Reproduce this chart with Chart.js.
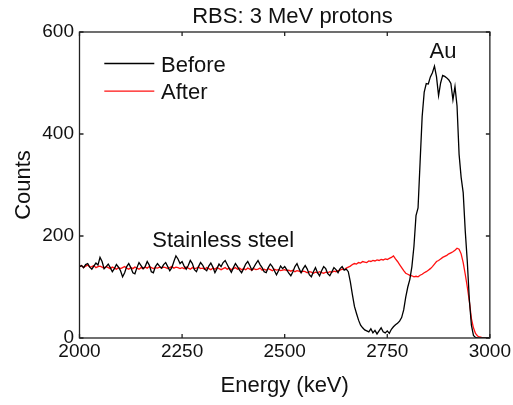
<!DOCTYPE html>
<html>
<head>
<meta charset="utf-8">
<script src="https://cdn.jsdelivr.net/npm/chart.js@4/dist/chart.umd.min.js"></script>
<style>
  html, body { margin: 0; padding: 0; background: #fff; }
</style>
</head>
<body>
<canvas id="rbs" width="513" height="405"></canvas>
<script>
/* RBS spectrum, 3 MeV protons – before / after */

const ENERGY_START = 2000;   // keV, first channel
const ENERGY_STEP = 5;       // keV per channel
const X_TICKS = [2000, 2250, 2500, 2750, 3000];
const Y_TICKS = [0, 200, 400, 600];

const BEFORE_COUNTS = [
  140,142,138,144,146,139,135,141,147,143,
  158,150,136,140,145,138,130,136,144,139,
  132,120,128,140,146,138,128,126,138,148,
  142,136,140,150,143,130,128,140,146,141,
  137,144,148,140,132,138,150,161,155,146,
  150,141,135,142,152,146,134,130,140,148,
  143,135,132,141,147,139,128,136,145,140,
  148,152,144,136,129,138,146,140,133,128,
  136,145,150,142,133,139,146,152,144,138,
  130,128,138,145,140,132,124,132,141,136,
  140,134,127,122,130,140,146,136,128,136,
  142,135,124,120,130,138,128,122,132,140,
  136,126,122,130,138,134,128,136,140,133,
  135,130,110,85,62,48,35,25,20,16,
  14,12,18,10,15,8,14,20,12,10,
  14,9,17,22,26,29,33,40,55,80,
  100,115,140,180,240,255,345,434,482,499,
  498,512,520,533,512,475,500,515,513,510,
  506,499,467,493,455,360,315,285,210,150,
  75,25,5,1,0,0,0,0,0,0,
  0
];

const AFTER_COUNTS = [
  140,142,138,141,143,139,140,142,138,140,
  141,139,137,140,138,136,139,137,135,138,
  136,138,140,137,135,138,136,139,137,135,
  138,136,139,137,140,138,136,138,137,139,
  137,139,138,136,138,140,137,139,138,136,
  138,136,139,137,135,138,136,137,139,136,
  137,135,138,136,134,137,135,138,136,134,
  136,138,135,137,134,136,138,135,137,134,
  136,134,137,135,133,136,134,135,137,133,
  135,133,136,134,132,135,133,134,132,133,
  134,132,133,131,133,130,132,131,129,131,
  130,128,130,129,127,129,128,130,128,127,
  129,128,130,129,131,130,132,133,135,134,
  137,139,141,144,146,145,148,147,150,149,
  148,151,150,152,151,153,152,154,153,155,
  154,156,158,161,155,150,144,138,132,127,
  125,123,122,120,121,120,123,125,128,130,
  133,136,140,145,150,152,155,158,160,162,
  165,167,169,172,176,174,165,148,125,100,
  72,38,20,9,4,2,1,0.5,0,0,
  0
];

const FONT = "'Liberation Sans', Arial, sans-serif";
const INK = '#111';

const toPoints = arr => arr.map((v, i) => ({ x: ENERGY_START + i * ENERGY_STEP, y: v }));

// frame, inward ticks, legend and labels drawn on top of the plot
const framePlugin = {
  id: 'frame',
  afterDraw(chart) {
    const { ctx, chartArea: a, scales: { x, y } } = chart;
    ctx.save();
    ctx.strokeStyle = '#222';
    ctx.lineWidth = 1.3;
    ctx.strokeRect(a.left, a.top, a.right - a.left, a.bottom - a.top);
    ctx.beginPath();
    X_TICKS.forEach(v => {
      const px = x.getPixelForValue(v);
      ctx.moveTo(px, a.bottom); ctx.lineTo(px, a.bottom - 4);
      ctx.moveTo(px, a.top); ctx.lineTo(px, a.top + 4);
    });
    Y_TICKS.forEach(v => {
      const py = y.getPixelForValue(v);
      ctx.moveTo(a.left, py); ctx.lineTo(a.left + 4, py);
      ctx.moveTo(a.right, py); ctx.lineTo(a.right - 4, py);
    });
    ctx.stroke();

    ctx.fillStyle = INK;
    ctx.font = '22px ' + FONT;
    ctx.textBaseline = 'alphabetic';

    // title
    ctx.textAlign = 'center';
    ctx.fillText('RBS: 3 MeV protons', 292.5, 23.3);
    ctx.fillText('Au', 443, 57.7);

    ctx.textAlign = 'left';
    ctx.fillText('Stainless steel', 152.3, 246.7);

    // legend
    chart.data.datasets.forEach((ds, i) => {
      const ly = 63.5 + i * 27.7;
      ctx.strokeStyle = ds.borderColor;
      ctx.lineWidth = 1.3;
      ctx.beginPath();
      ctx.moveTo(104.3, ly); ctx.lineTo(154.3, ly);
      ctx.stroke();
      ctx.fillStyle = INK;
      ctx.fillText(ds.label, 161, ly + 8.2);
    });
    ctx.restore();
  }
};

new Chart(document.getElementById('rbs'), {
  type: 'line',
  data: {
    datasets: [
      { label: 'Before', data: toPoints(BEFORE_COUNTS), borderColor: '#000', borderWidth: 1.3, pointRadius: 0, tension: 0 },
      { label: 'After', data: toPoints(AFTER_COUNTS), borderColor: '#ff1010', borderWidth: 1.3, pointRadius: 0, tension: 0 }
    ]
  },
  options: {
    responsive: false,
    animation: false,
    devicePixelRatio: 1,
    layout: { padding: { left: 0, right: 20, top: 32, bottom: 0 } },
    plugins: { legend: { display: false }, tooltip: { enabled: false } },
    scales: {
      x: {
        type: 'linear',
        min: 2000, max: 3000,
        afterFit: s => { s.height = 67; },
        afterBuildTicks: s => { s.ticks = X_TICKS.map(v => ({ value: v })); },
        grid: { display: false, drawTicks: false },
        border: { display: false },
        ticks: { color: INK, font: { family: FONT, size: 19 }, padding: 2, maxRotation: 0, autoSkip: false, callback: v => String(v) },
        title: { display: true, text: 'Energy (keV)', color: INK, font: { family: FONT, size: 22 }, padding: { top: 0, bottom: 5.4 } }
      },
      y: {
        min: 0, max: 600,
        afterFit: s => { s.width = 79.5; },
        afterBuildTicks: s => { s.ticks = Y_TICKS.map(v => ({ value: v })); },
        grid: { display: false, drawTicks: false },
        border: { display: false },
        ticks: { color: INK, font: { family: FONT, size: 19 }, padding: 5.5, callback: v => String(v) },
        title: { display: true, text: 'Counts', color: INK, font: { family: FONT, size: 22 }, padding: { top: 10.9, bottom: 0 } }
      }
    }
  },
  plugins: [framePlugin]
});
</script>
</body>
</html>
